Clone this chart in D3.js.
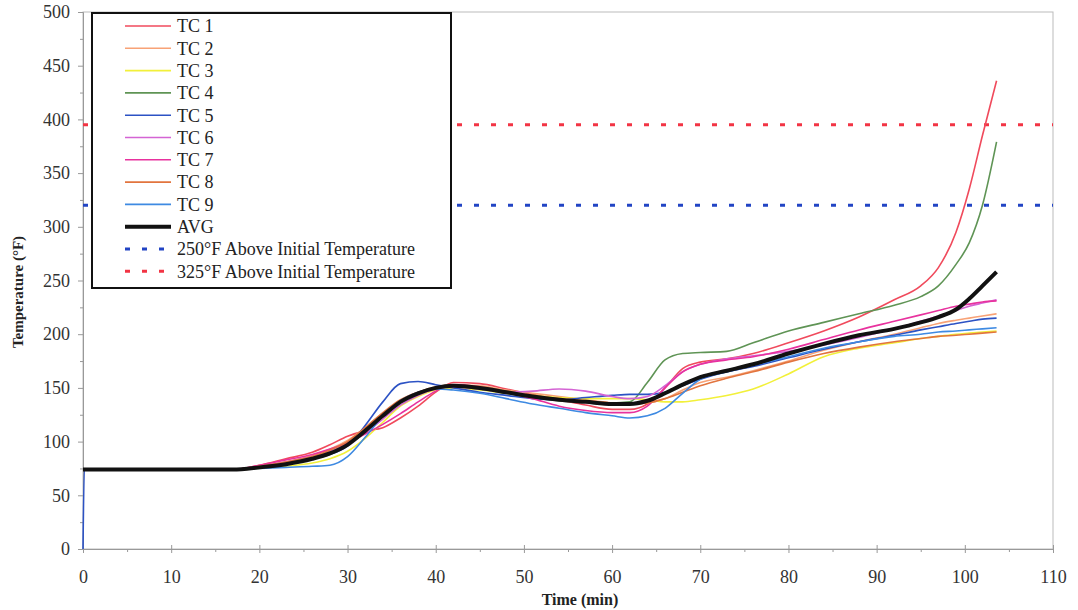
<!DOCTYPE html>
<html>
<head>
<meta charset="utf-8">
<script src="https://cdn.jsdelivr.net/npm/d3@7"></script>
<style>
	body { margin: 0; background: #fff; }
	svg text { font-family: "Liberation Serif", "DejaVu Serif", serif; fill: #222; }
	.axis path, .axis line { stroke: #999; }
</style>
</head>
<body>
<div id="chart"></div>
<script>
var times = [0, 0.15, 17, 20, 23, 26, 28, 30, 32, 34, 36, 38, 40, 42, 45, 48, 51, 54, 57, 60, 62, 64, 66, 68, 70, 73, 76, 80, 84, 88, 92, 95, 97, 99, 100.5, 102, 103.6];

var tc1 = [74,74,74,78,84, 90,97,105,110,113, 122,133,146,155,154, 149,144,139,134,130, 130,135,150,168,174, 177,182,192,203,216, 232,245,262,295,335, 385,436];
var tc2 = [74,74,74,77,81, 87,93,101,113,126, 138,146,151,153,152, 148,145,142,139,136, 135,136,140,148,155, 160,166,175,185,193, 200,206,210,213,215, 217,219];
var tc3 = [74,74,74,75,77, 80,84,91,103,118, 133,142,148,150,148, 145,143,141,140,140, 140,139,137,137,139, 143,149,163,179,187, 192,196,198,200,201, 202,203];
var tc4 = [74,74,74,76,80, 85,90,98,110,124, 137,145,150,151,149, 145,141,138,137,136, 137,155,176,182,183, 184,192,203,211,219, 227,235,245,265,285, 320,379];
var tc5 = [0,74,74,76,79, 84,88,96,115,137, 154,156,153,150,146, 143,140,139,141,143, 144,144,146,152,158, 165,170,178,186,193, 199,204,207,210,212, 214,215];
var tc6 = [74,74,74,77,81, 86,91,98,108,121, 134,143,149,151,149, 146,147,149,147,142, 140,142,152,165,172, 177,180,184,190,197, 205,212,217,222,226, 229,232];
var tc7 = [74,74,74,78,83, 88,93,99,107,116, 126,137,147,153,151, 146,140,133,129,127, 127,133,150,165,172, 176,179,186,195,204, 212,218,222,226,228, 230,231];
var tc8 = [74,74,74,77,81, 86,92,100,113,127, 139,146,150,152,151, 147,143,140,138,136, 135,136,140,146,152, 159,165,174,182,188, 193,196,198,199,200, 201,202];
var tc9 = [74,74,74,75,76, 77,78,86,104,124, 138,146,149,148,145, 140,135,131,127,124, 122,124,131,145,158, 165,171,179,187,193, 198,200,202,203,204, 205,206];
var avg = [74,74,74,76,79, 84,89,97,110,124, 137,145,150,152,150, 146,142,139,137,135, 135,138,145,153,160, 166,172,182,191,199, 205,211,216,223,233, 245,258];

var seriesNames = ["TC 1", "TC 2", "TC 3", "TC 4", "TC 5", "TC 6", "TC 7", "TC 8", "TC 9", "AVG"];
var seriesValues = [tc1, tc2, tc3, tc4, tc5, tc6, tc7, tc8, tc9, avg];
var seriesColors = ["#f04a5c", "#f8a276", "#f2f03a", "#5f9455", "#2c52c4", "#d464d4", "#e8329e", "#e2743e", "#3e8ae2", "#111111"];

var refNames = ["250\u00b0F Above Initial Temperature", "325\u00b0F Above Initial Temperature"];
var refValues = [320, 395];
var refColors = ["#2244c4", "#f23444"];

var xTicks = d3.range(0, 111, 10);
var yTicks = d3.range(0, 501, 50);

var W = 1078, H = 610;
var plotL = 83, plotR = 1053, plotT = 12, plotB = 549;

var svg = d3.select("#chart").append("svg")
	.attr("width", W)
	.attr("height", H);

var x = d3.scaleLinear().domain([0, 110]).range([plotL, plotR]),
		y = d3.scaleLinear().domain([0, 500]).range([plotB, plotT]);

// frame
svg.append("rect")
	.attr("x", plotL)
	.attr("y", plotT)
	.attr("width", plotR - plotL)
	.attr("height", plotB - plotT)
	.attr("fill", "none")
	.attr("stroke", "#bbb")
	.attr("stroke-width", 1);

// minor ticks
svg.append("g")
		.attr("class", "axis")
		.attr("transform", "translate(" + plotL + ",0)")
		.call(d3.axisLeft(y).tickValues(d3.range(25, 500, 50)).tickSize(3).tickFormat(""))
	.select(".domain").remove();
svg.append("g")
		.attr("class", "axis")
		.attr("transform", "translate(0," + plotB + ")")
		.call(d3.axisBottom(x).tickValues(d3.range(5, 110, 10)).tickSize(3).tickFormat(""))
	.select(".domain").remove();

var yAxis = svg.append("g")
		.attr("class", "axis")
		.attr("transform", "translate(" + plotL + ",0)")
		.call(d3.axisLeft(y).tickValues(yTicks).tickSize(5).tickPadding(8));
yAxis.selectAll("text")
		.style("font-size", "18px")
		.style("font-family", "Liberation Serif")
		.style("fill", "#333");

var xAxis = svg.append("g")
		.attr("class", "axis")
		.attr("transform", "translate(0," + plotB + ")")
		.call(d3.axisBottom(x).tickValues(xTicks).tickSize(4).tickPadding(17));
xAxis.selectAll("text")
		.style("font-size", "18px")
		.style("font-family", "Liberation Serif")
		.style("fill", "#333");
xAxis.selectAll(".tick line").attr("y1", -4);

svg.append("text")
	.attr("x", 580)
	.attr("y", 605)
	.attr("text-anchor", "middle")
	.style("font-size", "16px")
	.style("font-weight", "bold")
	.text("Time (min)");

svg.append("text")
	.attr("transform", "translate(23,292) rotate(-90)")
	.attr("text-anchor", "middle")
	.style("font-size", "15px")
	.style("font-weight", "bold")
	.text("Temperature (\u00b0F)");

// reference lines
refValues.forEach(function(v, i) {
	svg.append("line")
		.attr("x1", plotL)
		.attr("x2", plotR)
		.attr("y1", y(v))
		.attr("y2", y(v))
		.attr("stroke", refColors[i])
		.attr("stroke-width", 3)
		.attr("stroke-dasharray", "5,12");
});

var line = d3.line()
		.curve(d3.curveMonotoneX)
		.x(function(d, i) { return x(times[i]); })
		.y(function(d) { return y(d); });

seriesValues.forEach(function(vals, i) {
	var isAvg = seriesNames[i] == "AVG";
	svg.append("path")
		.datum(vals)
		.attr("fill", "none")
		.attr("stroke", seriesColors[i])
		.attr("stroke-width", isAvg ? 4 : 1.6)
		.attr("stroke-linejoin", "round")
		.attr("d", line);
});

// legend
var legend = svg.append("g");
legend.append("rect")
	.attr("x", 92)
	.attr("y", 13)
	.attr("width", 359)
	.attr("height", 275)
	.attr("fill", "#fff")
	.attr("stroke", "#111")
	.attr("stroke-width", 2);

var rowH = 22.3;
seriesNames.forEach(function(name, i) {
	var ry = 26 + i * rowH;
	legend.append("line")
		.attr("x1", 125).attr("x2", 171)
		.attr("y1", ry).attr("y2", ry)
		.attr("stroke", seriesColors[i])
		.attr("stroke-width", name == "AVG" ? 4 : 1.6);
	legend.append("text")
		.attr("x", 177)
		.attr("y", ry)
		.attr("dy", "0.35em")
		.style("font-size", "18px")
		.text(name);
});
refNames.forEach(function(name, i) {
	var ry = 26 + (seriesNames.length + i) * rowH;
	legend.append("line")
		.attr("x1", 125).attr("x2", 171)
		.attr("y1", ry).attr("y2", ry)
		.attr("stroke", refColors[i])
		.attr("stroke-width", 3)
		.attr("stroke-dasharray", "5,12");
	legend.append("text")
		.attr("x", 177)
		.attr("y", ry)
		.attr("dy", "0.35em")
		.style("font-size", "18px")
		.text(name);
});
</script>
</body>
</html>
